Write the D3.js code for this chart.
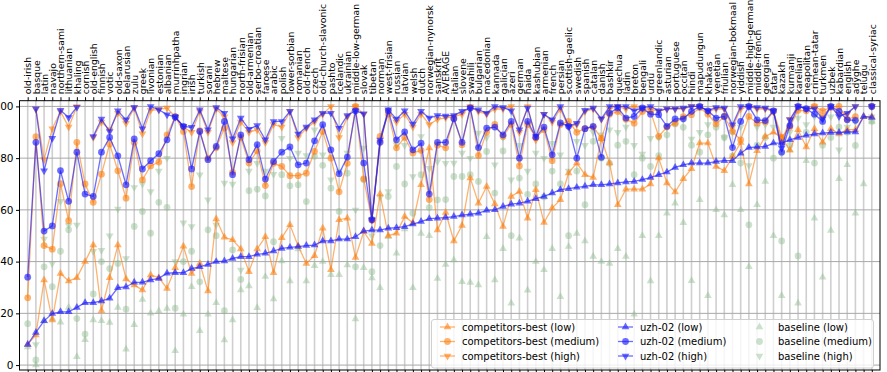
<!DOCTYPE html>
<html><head><meta charset="utf-8">
<script src="https://cdn.jsdelivr.net/npm/d3@7"></script>
<style>body{margin:0;background:#fff}svg{display:block}text{font-family:"DejaVu Sans",sans-serif}</style>
</head><body><svg id="c" width="887" height="372"></svg>
<script>
const languages = ["old-irish","basque","latin","navajo","northern-sami","lithuanian","khaling","cornish","old-english","finnish","votic","old-saxon","belarusian","zulu","greek","livonian","estonian","albanian","murrinhpatha","ingrian","irish","turkish","sorani","hebrew","maltese","hungarian","north-frisian","old-armenian","serbo-croatian","faroese","arabic","polish","lower-sorbian","romanian","old-french","czech","old-church-slavonic","pashto","icelandic","ukrainian","middle-low-german","slovak","tibetan","norman","west-frisian","russian","latvian","welsh","dutch","norwegian-nynorsk","sanskrit","AVERAGE","italian","slovene","swahili","bulgarian","macedonian","kannada","galician","azeri","german","haida","kashubian","armenian","french","persian","scottish-gaelic","swedish","spanish","catalan","danish","bashkir","quechua","ladin","breton","bengali","urdu","greenlandic","asturian","portuguese","occitan","hindi","mapudungun","khakas","venetian","friulian","norwegian-bokmaal","yiddish","middle-high-german","middle-french","georgian","tatar","kazakh","kurmanji","karelian","neapolitan","crimean-tatar","turkmen","uzbek","kabardian","english","adyghe","telugu","classical-syriac"];

const compLow = [8,11.6,32.9,17.4,35.4,32.5,33.8,40,46.4,21,33.8,46.4,33.3,31,29,34.8,33.8,29.6,37.6,45.9,35.4,39.3,28.6,56.5,49.4,48.4,44.9,36.1,44.9,49.6,35.7,49.2,54.2,46,39.3,42.3,52.9,36.8,56.2,56.8,41.6,51.6,47,66.1,50,51,57.4,55,69.7,83.9,52.2,59,48,54,72.3,62.6,69,62.3,53.6,65.2,67.1,56.8,67.8,55.1,60.7,63.9,74.2,78.1,73.6,72.5,87.5,78.1,62,68,68,68,70,80,70.4,66.9,72,75.9,85.8,85.8,76.8,75.1,80.6,86,70,82.8,88.4,90,88,83,91,84.3,91.4,86.1,91.4,89.3,91,91,96,96];
const compMed = [26,88.3,46.2,44.8,70.1,55.8,86.1,70,62.9,73.8,85.4,75.1,64.5,86,71.6,77,78.5,89,96,90.3,69,90.6,80,84,91.6,74.5,88,78.1,82.8,69.4,78,76.8,73.2,73.2,74.2,82.6,90.3,80,67,78,100,72,56,88.4,97,84,88,82,83,64,85,84,95.5,85.2,99.5,81,90,93,88.4,93,77,93,88,91,79,93,94.2,90,91.4,92,87.7,97,98,95,93.5,98,98,88.4,92,93.5,96,96.8,99.5,97,93.2,96,90.3,87.1,96.1,93.5,94,98,88,92,98.5,98.3,100,98.3,99.6,100,95,96,null,100];
const compHigh = [null,99,79.4,91.4,98,92,100,null,88,94,91,97.4,93.5,99.3,89.4,98.5,98.8,99.4,96,92,90,98,90,99,96,86,94,90,91,86,93,92,98,88,91.5,94,97,100,88,96,100,97,56,86,98,94,97,92,97,93,95,95.6,96,97,100,98,97,99,99,100,90,100,87,97,94,99,92,93,98,99,95,99,100,99,100,99,99,98,99,99,99,100,100,98,99,99,92,99,100,99,99,98,86,95,100,99,100,96,100,97,97,100,null,100];

const uzhLow = [8,12.6,17.1,19.9,20.6,20.6,22.3,24.1,24.1,24.8,25.8,29.9,30.2,32,32,32.9,33.5,35.5,35.7,35.7,37.3,38,38.9,40,40.2,41.2,41.9,41.9,42.8,43.2,44.1,45.1,45.5,45.8,46.2,46.4,48,48,48.7,48.7,49.6,51.8,52.2,52.2,52.9,53.1,53.5,54.5,55.5,56.6,56.8,57,57.4,58,58.3,58.7,59.8,60,61.3,62.2,62.6,63.3,64.3,65.2,66.5,67.8,68.2,68.7,69.1,69.7,69.7,70,70.4,70.8,71,71.7,72.5,73.6,74.6,76.4,77.4,78.1,78.1,78.1,78.7,79,79,81.9,84.1,84.3,84.5,85.8,85.8,87.1,88,88.8,89.3,89.7,89.9,89.9,90.1,90.1,96.1,95.7];
const uzhMed = [34,86.1,51.8,53.8,75.2,63.3,82.3,66.1,65.2,82.3,88,80.9,69.7,87.4,75.8,79,81.7,87.1,95.9,92.3,75.8,90.3,79.4,84.5,94.2,73.6,89,79.4,85.2,71.9,78.7,82.3,84.3,77.4,78.1,86.7,92.9,83.2,74,80.4,98.3,78.1,56.2,86.1,98.3,87.1,90.1,83.2,85.8,66.1,86.1,86.1,95.2,86.1,99.4,84.1,91.6,92,89,94.2,80,94.2,88.1,92,81.3,93.6,92.3,80,91.4,92.3,80.3,97.4,99.4,95.5,96.1,99.4,97,96.8,92.3,95.2,95.2,98.1,100,98.3,95.5,96.1,84.1,94.2,100,94.8,94.5,98.3,82.3,92.6,100,99.1,97,94.2,100,98.1,94.8,94.6,null,100];
const uzhHigh = [null,99.1,75.1,87.7,98.5,95.7,99.7,null,88.4,95.1,90.3,98.3,94.8,99.7,91.4,100,98.7,96.8,95.9,92.3,91.9,98.7,91,99.6,97.4,87.5,95.5,91.2,92.6,87.1,94.2,94.2,98.1,89.3,92,94.8,97.4,97.4,91.6,96.5,98.3,97.2,56.2,87,98.7,95.1,98.3,93.2,98.1,95.5,96.5,96.3,96.5,98.1,99.4,98.7,97.4,100,99.6,98.3,91,99.4,88.4,97,94.8,100,92.3,93.5,98.5,99.4,95.2,100,100,100,98.3,99.4,100,98.3,99.1,99.1,99.4,100,100,98.3,99.6,99.4,92.9,100,100,99.6,99.4,98.3,83.9,94.8,100,99.1,99.1,95.2,100,96.1,97.4,100,null,100];

const baseLow = [7,0,17,18,16.6,22.3,3.2,9.8,17.4,17.1,16.5,22.3,6.1,15.6,25.3,20,20.9,21.9,5.5,19.6,30.3,13.3,19.6,24.1,9.7,17.4,29,30.6,22.2,34.2,25.5,40.2,32.5,44.9,32.5,38.4,40,34.9,34.9,38.7,17.8,37.6,33.7,29.9,49.6,43.2,52.6,29.9,50.9,50,33.5,38.9,40.6,32.2,31.9,31,49.6,32.9,45,23.9,49,28.9,40,36.8,45,26.4,45.8,50.9,48,42,40,39.3,45,42,19.6,50,32.5,50,58.7,62.6,55,32.6,63.9,26.8,60,58,69.7,60,38,62,71,50,26.8,83.2,23.9,79,56.8,33.9,52,72,77.4,58.7,70,94.2];
const baseMed = [16,2,38,30.3,44,52.3,18,12,27.5,40,37.3,39.3,21.6,53.6,59.4,51,62.9,61,22,40,44,32.2,52.3,50,21,44.5,33.1,67.4,68,65.4,47.7,73.6,69.3,69.7,63.2,80.7,77.2,68.4,59.4,74.2,38,71.6,36.1,46.2,65.2,76.8,70,58.7,73.6,60.9,63.9,64,72.9,72.9,73.6,71,82.6,66.5,82.8,50,72.3,66,70,65,75,70,50,75,62,86.5,80,78,85,86.5,73.6,80,76.8,81,89,93.2,91.9,85,82.3,89,91.9,88,80.9,78.1,54.2,85,88,80,48,85,42.2,90,78.1,85,88,92,90,84.9,null,94.2];
const baseHigh = [null,8,48.7,39.3,63.3,54,54.2,null,44,44.4,50,60.3,41.2,68.7,70,67.1,75,80,40,55,53.6,73.6,63.9,54.2,70.4,70,36.8,75,78,75,73.8,87.7,80,82,81,91,81.3,71.6,75,82,60,83.9,50,65,67.1,85.2,85,72.9,88.4,76.1,78.7,78,78.1,82,80,89.7,88,77.4,88,71.6,85,75,82,80,85.8,81.3,75,86.5,85,90,89,91,90,92,85,81.6,87.7,88,92,94,95,87.4,90,93,95,88,90,92,77.2,92,93,92,82,90,95.5,93,96.1,95,96,83.2,92,94,null,96];
</script>
<script>
const svg = d3.select("#c");
const x = d3.scaleLinear().domain([-1, 104]).range([19.5, 880]);
const y = d3.scaleLinear().domain([-1.9, 102.2]).range([370, 100.7]);
const idx = d3.range(languages.length);

// grid
svg.append("g").selectAll("line").data(idx).join("line")
  .attr("x1", d => x(d)).attr("x2", d => x(d)).attr("y1", 100.7).attr("y2", 370)
  .attr("stroke", "#cfcfcf").attr("stroke-width", 1.6);
const yTicks = [0,20,40,60,80,100];
svg.append("g").selectAll("line").data(yTicks).join("line")
  .attr("x1", 19.5).attr("x2", 880).attr("y1", d => y(d)).attr("y2", d => y(d))
  .attr("stroke", "#a8a8a8").attr("stroke-width", 1);

const orange = "#ff7f0e", blue = "#1f1fff", green = "#8fbc8f";
const series = [
  {name:"competitors-best (low)", data: compLow, color: orange, shape:"up", line:true, op:0.6},
  {name:"competitors-best (medium)", data: compMed, color: orange, shape:"circle", line:true, op:0.6},
  {name:"competitors-best (high)", data: compHigh, color: orange, shape:"down", line:true, op:0.6},
  {name:"uzh-02 (low)", data: uzhLow, color: blue, shape:"up", line:true, op:0.65},
  {name:"uzh-02 (medium)", data: uzhMed, color: blue, shape:"circle", line:true, op:0.65},
  {name:"uzh-02 (high)", data: uzhHigh, color: blue, shape:"down", line:true, op:0.65},
  {name:"baseline (low)", data: baseLow, color: green, shape:"up", line:false, op:0.45},
  {name:"baseline (medium)", data: baseMed, color: green, shape:"circle", line:false, op:0.45},
  {name:"baseline (high)", data: baseHigh, color: green, shape:"down", line:false, op:0.45}
];
function symPath(shape){
  if (shape === "circle") return d3.symbol(d3.symbolCircle, 36)();
  return d3.symbol(d3.symbolTriangle, 26)();
}
function symTransform(shape, px, py){
  return shape === "down" ? `translate(${px},${py}) rotate(180)` : `translate(${px},${py})`;
}
const plot = svg.append("g");
const order = [6,7,8,0,1,2,3,4,5];
order.forEach(k => {
  const s = series[k];
  const g = plot.append("g");
  if (s.line) {
    const ln = d3.line().defined(d => d != null).x((d,i) => x(i)).y(d => y(d));
    g.append("path").attr("d", ln(s.data)).attr("fill","none")
      .attr("stroke", s.color).attr("stroke-width", 1.3).attr("stroke-opacity", s.op);
  }
  g.selectAll("path.m").data(s.data.map((v,i)=>({v,i})).filter(d => d.v != null)).join("path")
    .attr("class","m").attr("d", symPath(s.shape))
    .attr("transform", d => symTransform(s.shape, x(d.i), y(d.v)))
    .attr("fill", s.color).attr("fill-opacity", s.op);
});

svg.append("rect").attr("x",19.5).attr("y",100.7).attr("width",880-19.5).attr("height",370-100.7)
  .attr("fill","none").attr("stroke","#000").attr("stroke-width",1);

const xAxis = svg.append("g").attr("transform","translate(0,100.7)")
  .call(d3.axisTop(x).tickValues(idx).tickSize(3.5).tickPadding(3).tickFormat(i => languages[i]));
xAxis.select(".domain").remove();
xAxis.selectAll("text").attr("font-size", 9.3).attr("font-family","DejaVu Sans")
  .attr("text-anchor","start").attr("transform","rotate(-90)")
  .attr("x", 6.5).attr("y", 0).attr("dy","0.35em").attr("fill","#000");
const xAxisB = svg.append("g").attr("transform","translate(0,370)")
  .call(d3.axisBottom(x).tickValues(idx).tickSize(3.5).tickFormat(""));
xAxisB.select(".domain").remove();

const yAxis = svg.append("g").attr("transform","translate(19.5,0)")
  .call(d3.axisLeft(y).tickValues(yTicks).tickSize(3.5).tickPadding(2.5));
yAxis.select(".domain").remove();
yAxis.selectAll("text").attr("font-size", 10.5).attr("font-family","DejaVu Sans").attr("fill","#000");

const lg = svg.append("g");
lg.append("rect").attr("x",431.5).attr("y",319.5).attr("width",442).attr("height",48.5).attr("rx",2.5)
  .attr("fill","#fff").attr("fill-opacity",0.8).attr("stroke","#d0d0d0");
const colX = [440, 618, 752];
series.forEach((s,k) => {
  const col = Math.floor(k/3), row = k%3;
  const lx = colX[col], ly = 327 + row*14.5;
  if (s.line) lg.append("line").attr("x1",lx).attr("x2",lx+15).attr("y1",ly).attr("y2",ly)
    .attr("stroke", s.color).attr("stroke-width",1.3).attr("stroke-opacity", s.op);
  lg.append("path").attr("d", symPath(s.shape)).attr("transform", symTransform(s.shape, lx+7.5, ly))
    .attr("fill", s.color).attr("fill-opacity", s.op);
  lg.append("text").attr("x", lx + (col===2?26:22)).attr("y", ly).attr("dy","0.35em")
    .attr("font-size",10).text(s.name);
});
</script></body></html>
